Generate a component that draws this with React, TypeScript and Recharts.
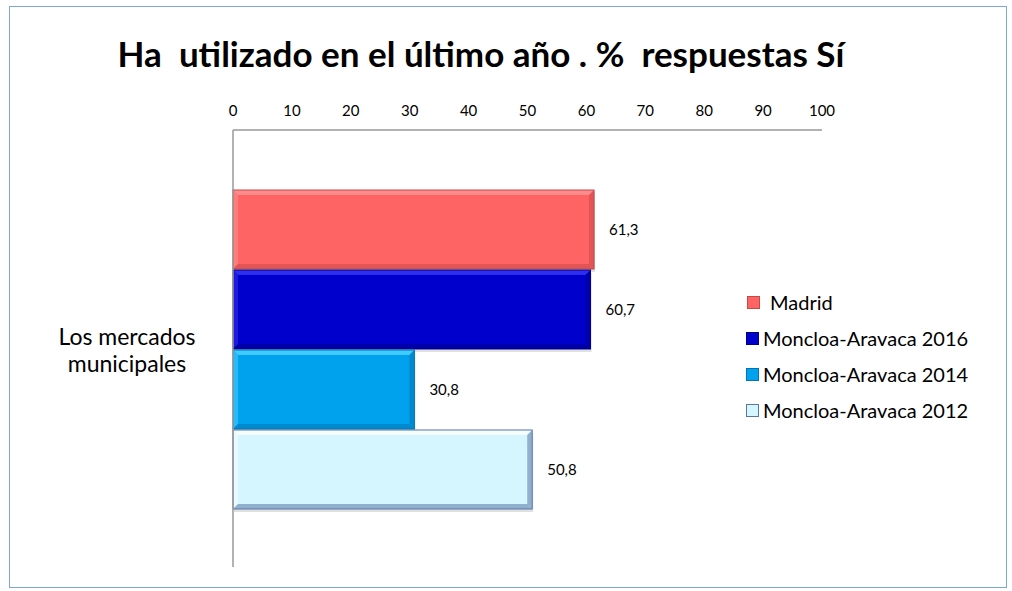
import React from 'react';
import { BarChart, Bar, XAxis, YAxis, LabelList } from 'recharts';

const categories = ['Los mercados municipales'];
const seriesNames = ['Madrid', 'Moncloa-Aravaca 2016', 'Moncloa-Aravaca 2014', 'Moncloa-Aravaca 2012'];
const madrid = [61.3];
const moncloa2016 = [60.7];
const moncloa2014 = [30.8];
const moncloa2012 = [50.8];
const xTicks = [0, 10, 20, 30, 40, 50, 60, 70, 80, 90, 100];

const palette = [
    { fill: '#FF6464', light: '#FF8C8C', dark: '#C84848' },
    { fill: '#0000CC', light: '#2E2EEE', dark: '#00008A' },
    { fill: '#00A2EE', light: '#3FCBFF', dark: '#0074B4' },
    { fill: '#D6F6FF', light: '#F5FDFF', dark: '#5877A6' },
];

const data = categories.map((name, i) => ({
    name,
    s0: madrid[i],
    s1: moncloa2016[i],
    s2: moncloa2014[i],
    s3: moncloa2012[i],
}));

const font = 'Lato, Carlito, Calibri, "Open Sans", sans-serif';

const makeBevel = (c: { fill: string; light: string; dark: string }) => (props: any) => {
    const { x, y, width, height } = props;
    if (!width || width <= 0) return null;
    const b = 5;
    return (
        <g>
            <rect x={x + 1} y={y + 3} width={width} height={height} fill="#000" opacity={0.12} />
            <rect x={x} y={y} width={width} height={height} fill={c.fill} />
            <polygon points={`${x},${y} ${x + width},${y} ${x + width - b},${y + b} ${x + b},${y + b}`} fill={c.light} />
            <polygon points={`${x},${y} ${x + b},${y + b} ${x + b},${y + height - b} ${x},${y + height}`} fill={c.light} opacity={0.6} />
            <polygon points={`${x},${y + height} ${x + b},${y + height - b} ${x + width - b},${y + height - b} ${x + width},${y + height}`} fill={c.dark} opacity={0.55} />
            <polygon points={`${x + width},${y} ${x + width},${y + height} ${x + width - b},${y + height - b} ${x + width - b},${y + b}`} fill={c.dark} opacity={0.55} />
            <rect x={x} y={y} width={width} height={height} fill="none" stroke={c.dark} strokeWidth={1} />
        </g>
    );
};

const CategoryTick = (props: any) => {
    const { y, payload } = props;
    const words = String(payload.value).split(' ');
    const lines = [words.slice(0, 2).join(' '), words.slice(2).join(' ')];
    return (
        <g>
            {lines.map((l, i) => (
                <text key={i} x={127} y={y - 13 + i * 27} textAnchor="middle" dominantBaseline="central"
                    fontSize={23} fontFamily={font} fill="#000">
                    {l}
                </text>
            ))}
        </g>
    );
};

const LegendBox = () => (
    <div style={{ position: 'absolute', left: 746, top: 284, fontFamily: font, fontSize: 20, color: '#000' }}>
        {seriesNames.map((n, i) => (
            <div key={n} style={{ display: 'flex', alignItems: 'center', height: 36 }}>
                <span style={{
                    display: 'inline-block', width: 11, height: 11, background: palette[i].fill,
                    border: `1px solid ${palette[i].dark}`, marginRight: i === 0 ? 10 : 4,
                    marginLeft: i === 0 ? 1 : 0,
                }} />
                <span>{n}</span>
            </div>
        ))}
    </div>
);

const formatLabel = (v: any) => String(v).replace('.', ',');

const App: React.FC = () => {
    return (
        <div style={{ position: 'absolute', left: 0, top: 0, width: 1012, height: 591, background: '#fff' }}>
            <div style={{
                position: 'absolute', left: 9, top: 6, width: 996, height: 580,
                border: '1px solid #7FA6D8',
            }} />
            <div style={{
                position: 'absolute', left: 0, top: 32, width: 962, textAlign: 'center',
                fontFamily: font, fontWeight: 700, fontSize: 35, color: '#000', whiteSpace: 'pre',
            }}>
                {'Ha  utilizado en el último año . %  respuestas Sí'}
            </div>
            <div style={{ position: 'absolute', left: 0, top: 0 }}>
                <BarChart
                    width={1012}
                    height={591}
                    data={data}
                    layout="vertical"
                    margin={{ top: 80, right: 190, bottom: 24, left: 0 }}
                    barCategoryGap={60}
                    barGap={1}
                >
                    <XAxis
                        type="number"
                        orientation="top"
                        domain={[0, 100]}
                        ticks={xTicks}
                        height={50}
                        tickLine={false}
                        tickMargin={8}
                        axisLine={{ stroke: '#999999', strokeWidth: 1.5 }}
                        tick={{ fontSize: 15, fontFamily: font, fill: '#000' }}
                        interval={0}
                    />
                    <YAxis
                        type="category"
                        dataKey="name"
                        width={233}
                        tickLine={false}
                        axisLine={{ stroke: '#999999', strokeWidth: 1.5 }}
                        tick={<CategoryTick />}
                    />
                    {['s0', 's1', 's2', 's3'].map((k, i) => (
                        <Bar key={k} dataKey={k} name={seriesNames[i]} fill={palette[i].fill}
                            shape={makeBevel(palette[i])} isAnimationActive={false}>
                            <LabelList dataKey={k} position="right" offset={15} formatter={formatLabel}
                                style={{ fontSize: 15, fontFamily: font, fill: '#000' }} />
                        </Bar>
                    ))}
                </BarChart>
            </div>
            <LegendBox />
        </div>
    );
};

export default App;
